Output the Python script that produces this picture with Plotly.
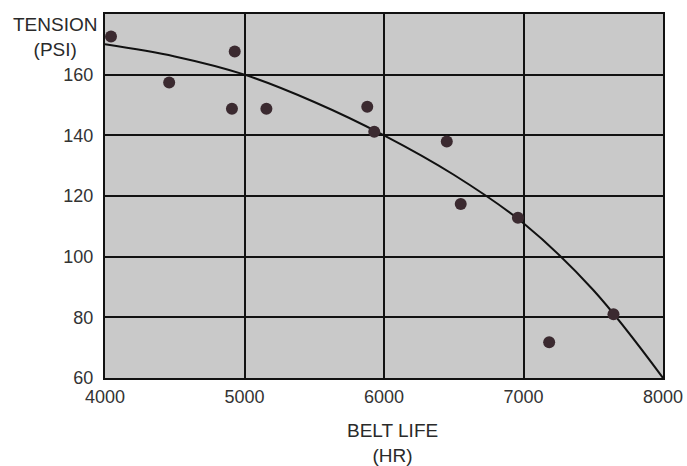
import plotly.graph_objects as go

belt_life = [4043, 4460, 4930, 4910, 5157, 5880, 5930, 6450, 6550, 6960, 7645, 7184]
tension = [172.6, 157.4, 167.6, 148.8, 148.8, 149.4, 141.2, 138.0, 117.4, 112.8, 81.0, 71.8]

curve_x = [4000, 4500, 5000, 5500, 6000, 6500, 7000, 7500, 8000]
curve_y = [170, 166, 160, 151, 140, 127, 111, 89, 60]

x_ticks = [4000, 5000, 6000, 7000, 8000]
y_ticks = [60, 80, 100, 120, 140, 160]

W, H = 687, 466
PL, PR, PT, PB = 105, 663, 14, 378

fig = go.Figure()
fig.add_trace(go.Scatter(x=curve_x, y=curve_y, mode="lines",
                         line=dict(color="#111111", width=2, shape="spline"),
                         hoverinfo="skip"))
fig.add_trace(go.Scatter(x=belt_life, y=tension, mode="markers",
                         marker=dict(color="#3b2a30", size=12)))

tick_font = dict(family="Liberation Sans, Arial, sans-serif", size=18, color="#333333")
title_font = dict(family="Liberation Sans, Arial, sans-serif", size=19, color="#2a2a2a")


def px(x):
    return (x - PL) / (PR - PL)


def py(y):
    return (PB - y) / (PB - PT)


fig.update_layout(
    width=W, height=H,
    margin=dict(l=PL, r=W - PR, t=PT, b=H - PB, pad=0, autoexpand=False),
    paper_bgcolor="white", plot_bgcolor="#c9c9c9",
    showlegend=False,
    xaxis=dict(range=[4000, 8000], tickvals=x_ticks, showgrid=True, automargin=False,
               gridcolor="#111111", gridwidth=2, showline=True, linecolor="#111111",
               linewidth=2, mirror=True, zeroline=False, tickfont=tick_font,
               ticks="outside", ticklen=1, tickcolor="rgba(0,0,0,0)"),
    yaxis=dict(range=[60, 180], tickvals=y_ticks, showgrid=True, automargin=False,
               gridcolor="#111111", gridwidth=2, showline=True, linecolor="#111111",
               linewidth=2, mirror=True, zeroline=False, tickfont=tick_font,
               ticks="outside", ticklen=6, tickcolor="rgba(0,0,0,0)"),
    annotations=[
        dict(text="TENSION<br>(PSI)", x=px(55), y=py(37), xref="paper", yref="paper",
             xanchor="center", yanchor="middle", showarrow=False, font=title_font),
        dict(text="BELT LIFE<br>(HR)", x=px(392), y=py(443), xref="paper", yref="paper",
             xanchor="center", yanchor="middle", showarrow=False, font=title_font),
    ],
)
fig.write_html("out.html",
               config={"displayModeBar": False, "responsive": False},
               post_script="document.body.style.margin='0';document.body.style.overflow='hidden';")
